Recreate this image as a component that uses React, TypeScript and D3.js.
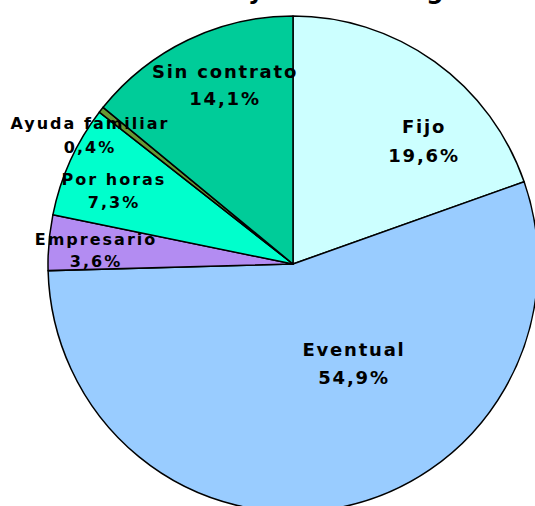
import * as d3 from "d3";

const categories = ["Fijo", "Eventual", "Empresario", "Por horas", "Ayuda familiar", "Sin contrato"];
const shares = [19.6, 54.9, 3.6, 7.3, 0.4, 14.1];
const percentLabels = ["19,6%", "54,9%", "3,6%", "7,3%", "0,4%", "14,1%"];
const titleText = "Asalariados y contrato según edad";

const colors = ["#CCFFFF", "#99CCFF", "#B38CF2", "#00FFCC", "#669933", "#00CC99"];

// label anchors relative to the pie centre (first line baseline), font size
const labelLayout = [
  { dx: 131, dy: -131, size: 18, gap: 29 },
  { dx: 61, dy: 92, size: 18, gap: 28 },
  { dx: -197, dy: -19, size: 16, gap: 22 },
  { dx: -179, dy: -79, size: 16, gap: 23 },
  { dx: -203, dy: -135, size: 16, gap: 24 },
  { dx: -68, dy: -186, size: 18, gap: 27 },
];

export default function App() {
  const width = 535;
  const height = 506;
  const cx = 293;
  const cy = 264;
  const rx = 245;
  const ry = 248;

  const pie = d3
    .pie<number>()
    .sort(null)
    .startAngle(0)
    .endAngle(2 * Math.PI)
    .value((d) => d);
  const arcs = pie(shares);
  const arc = d3.arc<d3.PieArcDatum<number>>().innerRadius(0).outerRadius(rx);

  const font = "'DejaVu Sans', Verdana, sans-serif";

  return (
    <svg
      width={width}
      height={height}
      style={{ position: "absolute", left: 0, top: 0, background: "#fff" }}
    >
      <text
        x={82}
        y={-1}
        fontFamily={font}
        fontWeight="bold"
        fontSize={24}
        fill="#000"
      >
        {titleText}
      </text>
      <g transform={`translate(${cx},${cy}) scale(1,${ry / rx})`}>
        {arcs.map((a, i) => (
          <path
            key={categories[i]}
            d={arc(a) || ""}
            fill={colors[i]}
            stroke="#000"
            strokeWidth={1.5}
            strokeLinejoin="round"
          />
        ))}
      </g>
      <g transform={`translate(${cx},${cy})`}>
        {arcs.map((a, i) => {
          const l = labelLayout[i];
          return (
            <text
              key={"l" + categories[i]}
              fontFamily={font}
              fontWeight="bold"
              fontSize={l.size}
              letterSpacing={l.size > 17 ? 1.8 : 2}
              textAnchor="middle"
              fill="#000"
            >
              <tspan x={l.dx} y={l.dy}>
                {categories[i]}
              </tspan>
              <tspan x={l.dx} y={l.dy + l.gap}>
                {percentLabels[i]}
              </tspan>
            </text>
          );
        })}
      </g>
    </svg>
  );
}
